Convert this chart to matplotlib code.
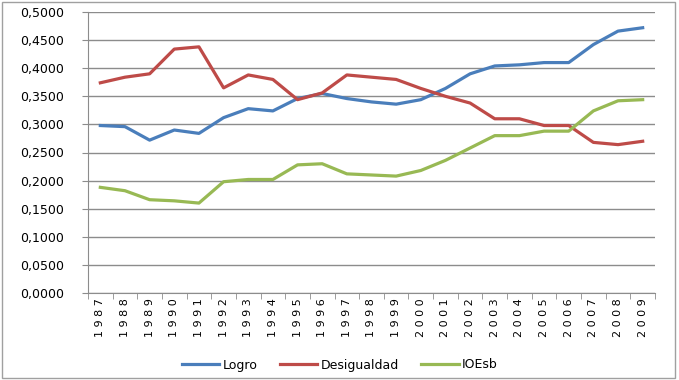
import numpy as np
import matplotlib.pyplot as plt
from matplotlib.ticker import FuncFormatter

# datos
anios = [str(a) for a in range(1987, 2010)]
logro = [0.298, 0.296, 0.272, 0.290, 0.284, 0.312, 0.328, 0.324, 0.346, 0.355, 0.346, 0.340,
         0.336, 0.344, 0.364, 0.390, 0.404, 0.406, 0.410, 0.410, 0.442, 0.466, 0.472]
desigualdad = [0.374, 0.384, 0.390, 0.434, 0.438, 0.365, 0.388, 0.380, 0.344, 0.356, 0.388, 0.384,
               0.380, 0.364, 0.350, 0.338, 0.310, 0.310, 0.298, 0.298, 0.268, 0.264, 0.270]
ioesb = [0.188, 0.182, 0.166, 0.164, 0.160, 0.198, 0.202, 0.202, 0.228, 0.230, 0.212, 0.210,
         0.208, 0.218, 0.236, 0.258, 0.280, 0.280, 0.288, 0.288, 0.324, 0.342, 0.344]

plt.rcParams['font.family'] = ['DejaVu Sans']

fig = plt.figure(figsize=(6.79, 3.80), dpi=100)
ax = fig.add_axes([88/679, 1-293/380, (655-88)/679, (293-12)/380])

x = np.arange(len(anios))
ax.plot(x, logro, color='#4A7EBB', lw=2.3, label='Logro')
ax.plot(x, desigualdad, color='#BE4B48', lw=2.3, label='Desigualdad')
ax.plot(x, ioesb, color='#98B954', lw=2.3, label='IOEsb')

ax.set_xlim(-0.5, len(anios)-0.5)
ax.set_ylim(0, 0.5)
ax.set_yticks(np.arange(0, 0.5001, 0.05))
ax.yaxis.set_major_formatter(FuncFormatter(lambda v, p: f'{v:.4f}'.replace('.', ',')))
ax.grid(axis='y', color='#8C8C8C', lw=1)
ax.set_axisbelow(True)

# etiquetas del eje x (rotadas, con espaciado)
ax.set_xticks(x)
ax.set_xticklabels([' '.join(a) for a in anios], rotation=90, fontsize=8)
ax.tick_params(axis='x', length=0, pad=4)
ax.set_xticks(np.arange(-0.5, len(anios), 1), minor=True)
ax.tick_params(axis='x', which='minor', length=4, color='#8C8C8C')
ax.tick_params(axis='y', length=4, color='#8C8C8C', labelsize=9, pad=13)

for s in ['top', 'right']:
    ax.spines[s].set_visible(False)
for s in ['left', 'bottom']:
    ax.spines[s].set_color('#8C8C8C')

fig.legend(loc='center', bbox_to_anchor=(0.5, 1-365/380), ncol=3, frameon=False,
           fontsize=9, handlelength=3.0, columnspacing=1.8, handletextpad=0.25)

# borde exterior
fig.patches.append(plt.Rectangle((2/679, 0.005), 673/679, 0.99, transform=fig.transFigure,
                                 fill=False, edgecolor='#A0A0A0', lw=1))

fig.savefig('out.png', dpi=100)
